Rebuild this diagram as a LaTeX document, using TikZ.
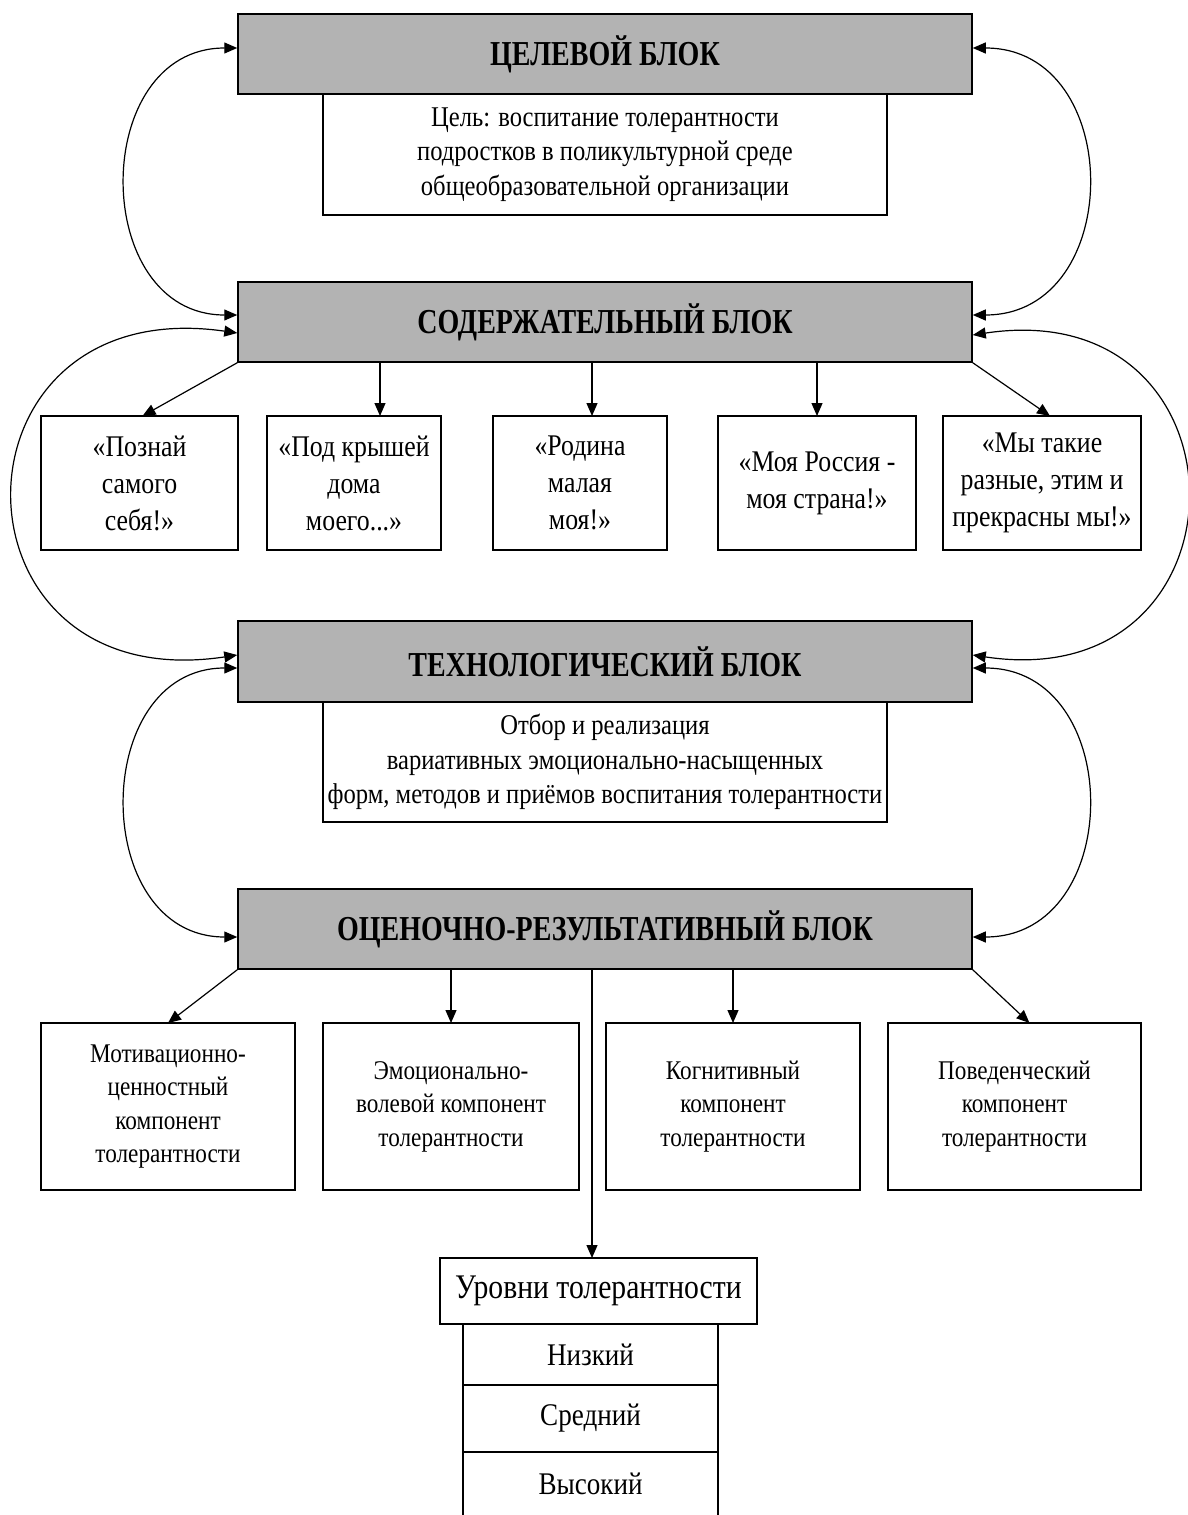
\documentclass[tikz,border=0pt]{standalone}
\usepackage{fontspec}
\setmainfont{Liberation Serif}[FakeStretch=0.86, BoldFeatures={FakeStretch=0.80}]
\usetikzlibrary{arrows.meta}
\definecolor{blockgray}{RGB}{179,179,179}
\begin{document}
\begin{tikzpicture}[x=1pt,y=-1pt,
  gbox/.style={draw, fill=blockgray, line width=1.5pt, inner sep=0pt,
    font=\fontsize{35}{38}\selectfont\bfseries},
  wbox/.style={draw, fill=white, line width=1.5pt, inner sep=0pt, outer sep=0pt, align=center},
  tbody/.style={font=\fontsize{28.6}{34.5}\selectfont},
  tchild/.style={font=\fontsize{30}{37}\selectfont},
  tcomp/.style={font=\fontsize{27}{33.5}\selectfont},
  arr/.style={-{Triangle[length=13pt,width=11pt]}, line width=1.2pt},
  dbl/.style={{Triangle[length=13pt,width=11pt]}-{Triangle[length=13pt,width=11pt]}, line width=1.2pt}
]
\useasboundingbox[fill=white] (0,0) rectangle (1188,1515);

% white text boxes under gray blocks
\node[wbox, tbody, minimum width=564pt, minimum height=121pt] (goaltxt) at (605,154.5)
  {Цель: воспитание толерантности\\подростков в поликультурной среде\\общеобразовательной организации};
\node[wbox, tbody, minimum width=564pt, minimum height=120pt] (techtxt) at (605,762)
  {Отбор и реализация\\вариативных эмоционально-насыщенных\\форм, методов и приёмов воспитания толерантности};

% gray blocks
\node[gbox, minimum width=734pt, minimum height=80pt] (goal) at (605,54) {ЦЕЛЕВОЙ БЛОК};
\node[gbox, minimum width=734pt, minimum height=80pt] (cont) at (605,322) {СОДЕРЖАТЕЛЬНЫЙ БЛОК};
\node[gbox, minimum width=734pt, minimum height=81pt] (tech) at (605,661.5) {ТЕХНОЛОГИЧЕСКИЙ БЛОК};
\node[gbox, minimum width=734pt, minimum height=80pt] (eval) at (605,929) {ОЦЕНОЧНО-РЕЗУЛЬТАТИВНЫЙ БЛОК};

% content children
\node[wbox, tchild, minimum width=197pt, minimum height=134pt] (c1) at (139.5,483) {«Познай\\самого\\себя!»};
\node[wbox, tchild, minimum width=174pt, minimum height=134pt] (c2) at (354,483) {«Под крышей\\дома\\моего...»};
\node[wbox, tchild, minimum width=174pt, minimum height=134pt] (c3) at (580,483) {«Родина\\малая\\моя!»};
\node[wbox, tchild, minimum width=198pt, minimum height=134pt] (c4) at (817,483) {«Моя Россия -\\моя страна!»};
\node[wbox, tchild, minimum width=198pt, minimum height=134pt] (c5) at (1042,483) {«Мы такие\\разные, этим и\\прекрасны мы!»};

% evaluation children
\node[wbox, tcomp, minimum width=254pt, minimum height=167pt] (e1) at (168,1106.5) {Мотивационно-\\ценностный\\компонент\\толерантности};
\node[wbox, tcomp, minimum width=256pt, minimum height=167pt] (e2) at (451,1106.5) {Эмоционально-\\волевой компонент\\толерантности};
\node[wbox, tcomp, minimum width=254pt, minimum height=167pt] (e3) at (733,1106.5) {Когнитивный\\компонент\\толерантности};
\node[wbox, tcomp, minimum width=253pt, minimum height=167pt] (e4) at (1014.5,1106.5) {Поведенческий\\компонент\\толерантности};

% levels
\node[wbox, font=\fontsize{34.5}{38}\selectfont, minimum width=317pt, minimum height=66pt] (lev) at (598.5,1291) {Уровни толерантности};
\node[wbox, font=\fontsize{31.5}{35}\selectfont, minimum width=255pt, minimum height=61pt] (l1) at (590.5,1354.5) {Низкий};
\node[wbox, font=\fontsize{31.5}{35}\selectfont, minimum width=255pt, minimum height=67pt] (l2) at (590.5,1418.5) {Средний};
\node[font=\fontsize{31.5}{35}\selectfont, inner sep=0pt] (l3) at (590.5,1484) {Высокий};
\draw[line width=1.5pt] (l2.south west) -- ++(0,70);
\draw[line width=1.5pt] (l2.south east) -- ++(0,70);

% curved bidirectional connectors
\draw[dbl] ([yshift=6pt]goal.west) .. controls +(-148,0) and +(-148,0) .. ([yshift=7pt]cont.west);
\draw[dbl] ([yshift=6pt]goal.east) .. controls +(153,0) and +(153,0) .. ([yshift=7pt]cont.east);
\draw[dbl] ([yshift=-11pt]cont.west) .. controls +(-298,-43) and +(-298,45) .. ([yshift=6.5pt]tech.west);
\draw[dbl] ([yshift=-13pt]cont.east) .. controls +(285,-43) and +(285,43) .. ([yshift=6.5pt]tech.east);
\draw[dbl] ([yshift=-6.5pt]tech.west) .. controls +(-148,0) and +(-148,0) .. ([yshift=-8pt]eval.west);
\draw[dbl] ([yshift=-6.5pt]tech.east) .. controls +(153,0) and +(153,0) .. ([yshift=-8pt]eval.east);

% straight arrows from content block
\draw[arr] (cont.south west) -- ([xshift=3pt]c1.north);
\draw[arr] ([xshift=26pt]c2.north |- cont.south) -- ([xshift=26pt]c2.north);
\draw[arr] ([xshift=12pt]c3.north |- cont.south) -- ([xshift=12pt]c3.north);
\draw[arr] (c4.north |- cont.south) -- (c4.north);
\draw[arr] (cont.south east) -- ([xshift=8pt]c5.north);

% straight arrows from evaluation block
\draw[arr] (eval.south west) -- (e1.north);
\draw[arr] (e2.north |- eval.south) -- (e2.north);
\draw[arr] (e3.north |- eval.south) -- (e3.north);
\draw[arr] (eval.south east) -- ([xshift=15pt]e4.north);
\draw[arr] ([xshift=-6.5pt]lev.north |- eval.south) -- ([xshift=-6.5pt]lev.north);
\end{tikzpicture}
\end{document}
